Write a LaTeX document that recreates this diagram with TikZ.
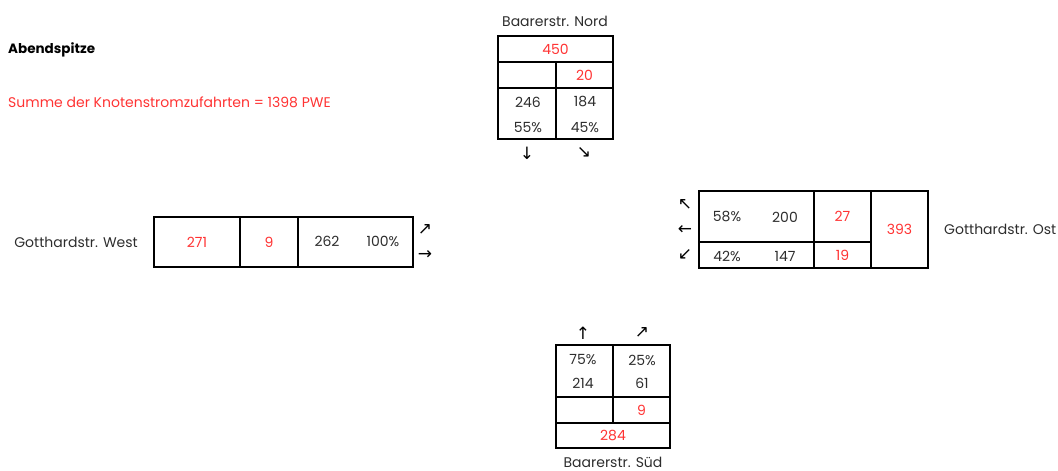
\documentclass[tikz,border=0pt]{standalone}
\usepackage{fontspec}
\setmainfont{Poppins}
\newfontfamily\arrowfont{DejaVu Sans}
\definecolor{tred}{RGB}{255,51,51}
\definecolor{tgray}{RGB}{45,45,45}
\begin{document}
\begin{tikzpicture}[x=1pt,y=-1pt,
  cell/.style={draw=black, line width=1.6pt, inner sep=0pt, rectangle, text=tred, font=\fontsize{14}{16}\selectfont},
  num/.style={inner sep=0pt, text=tgray, font=\fontsize{14}{16}\selectfont},
  lbl/.style={inner sep=0pt, text=tgray, font=\fontsize{14}{16}\selectfont},
  arr/.style={inner sep=0pt, text=black, font=\arrowfont\fontsize{17}{19}\selectfont}]
\useasboundingbox (0,0) rectangle (1058,471);

% header
\node[inner sep=0pt, anchor=west, font=\fontsize{13.5}{15}\selectfont\bfseries] (title) at (8,50) {Abendspitze};
\node[inner sep=0pt, anchor=west, text=tred, font=\fontsize{14}{16}\selectfont] (sum) at (8,102) {Summe der Knotenstromzufahrten = 1398 PWE};

% North
\node[lbl, anchor=base] (nlbl) at (555,27) {Baarerstr. Nord};
\node[cell, minimum width=115pt, minimum height=26pt] (n1) at (555.5,49) {450};
\node[cell, minimum width=58pt, minimum height=26pt] (n2a) at (527,75) {};
\node[cell, minimum width=57pt, minimum height=26pt] (n2b) at (584.5,75) {20};
\node[cell, minimum width=58pt, minimum height=51pt] (n3a) at (527,113.5) {};
\node[cell, minimum width=57pt, minimum height=51pt] (n3b) at (584.5,113.5) {};
\node[num] (n246) at (528,102) {246};
\node[num] (n55) at (528,128) {55\%};
\node[num] (n184) at (585,102) {184};
\node[num] (n45) at (585,128) {45\%};
\node[arr] (na1) at (527,153) {↓};
\node[arr] (na2) at (584,153) {↘};

% West
\node[lbl, anchor=east] (wlbl) at (138,242) {Gotthardstr. West};
\node[cell, minimum width=86pt, minimum height=50pt] (w1) at (197,242) {271};
\node[cell, minimum width=58pt, minimum height=50pt] (w2) at (269,242) {9};
\node[cell, minimum width=115pt, minimum height=50pt] (w3) at (355.5,242) {};
\node[num] (w262) at (327,241) {262};
\node[num] (w100) at (383,241) {100\%};
\node[arr] (wa1) at (425,230) {↗};
\node[arr] (wa2) at (425,255) {→};

% East
\node[cell, minimum width=115pt, minimum height=51pt] (e1) at (756.5,216.5) {};
\node[cell, minimum width=115pt, minimum height=26pt] (e2) at (756.5,255) {};
\node[cell, minimum width=57pt, minimum height=51pt] (e3) at (842.5,216.5) {27};
\node[cell, minimum width=57pt, minimum height=26pt] (e4) at (842.5,255) {19};
\node[cell, minimum width=57pt, minimum height=77pt] (e5) at (899.5,229.5) {393};
\node[num] (e58) at (727,217) {58\%};
\node[num] (e200) at (785,217) {200};
\node[num] (e42) at (727,256) {42\%};
\node[num] (e147) at (785,256) {147};
\node[arr] (ea1) at (685,205) {↖};
\node[arr] (ea2) at (685,230) {←};
\node[arr] (ea3) at (685,255) {↙};
\node[lbl, anchor=west] (elbl) at (944,229) {Gotthardstr. Ost};

% South
\node[arr] (sa1) at (583,333) {↑};
\node[arr] (sa2) at (642,333) {↗};
\node[cell, minimum width=57pt, minimum height=52pt] (s1a) at (584.5,371) {};
\node[cell, minimum width=57pt, minimum height=52pt] (s1b) at (641.5,371) {};
\node[num] (s75) at (583,360) {75\%};
\node[num] (s214) at (583,383) {214};
\node[num] (s25) at (642,360) {25\%};
\node[num] (s61) at (642,383) {61};
\node[cell, minimum width=57pt, minimum height=26pt] (s2a) at (584.5,410) {};
\node[cell, minimum width=57pt, minimum height=26pt] (s2b) at (641.5,410) {9};
\node[cell, minimum width=114pt, minimum height=25pt] (s3) at (613,435.5) {284};
\node[lbl, anchor=base] (slbl) at (613,467) {Baarerstr. Süd};
\end{tikzpicture}
\end{document}
